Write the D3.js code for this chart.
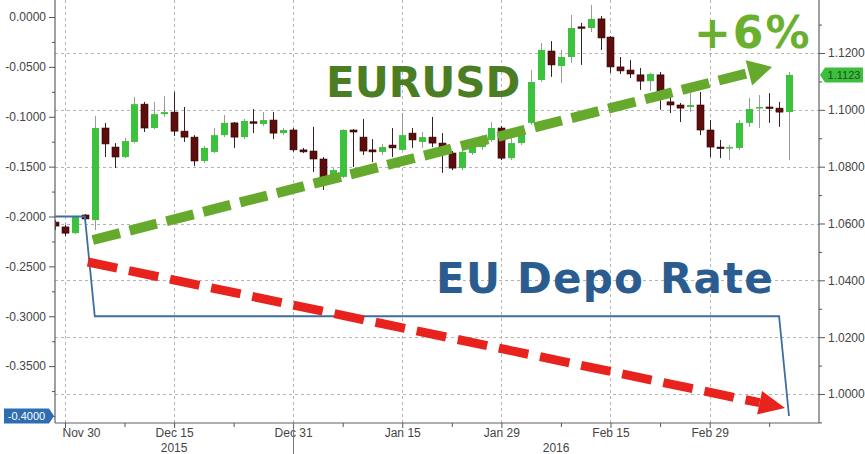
<!DOCTYPE html>
<html>
<head>
<meta charset="utf-8"/>
<title>EURUSD vs EU Depo Rate</title>
<script src="https://d3js.org/d3.v7.min.js"></script>
<style>
    body { margin: 0; background: #ffffff; }
    svg { display: block; }
    .axis text { font-family: "Liberation Sans", Arial, sans-serif; font-size: 12px; fill: #444; }
    .axis line { stroke: #555; }
    .big { font-family: "DejaVu Sans", Verdana, sans-serif; font-weight: bold; }
</style>
</head>
<body>
<svg id="chart" width="865" height="454"></svg>
<script>
// EURUSD daily candles, one per weekday from Nov 27 2015 to Mar 10 2016
var opens  = [1.0605,1.0588,1.0566,1.0630,1.0612,1.0936,1.0869,1.0834,1.0887,1.1020,
              1.0936,1.0985,1.0992,1.0925,1.0904,1.0820,1.0852,1.0911,1.0954,1.0904,
              1.0958,1.0950,1.0964,1.0918,1.0929,1.0859,1.0855,1.0827,1.0753,1.0764,
              1.0929,1.0904,1.0859,1.0852,1.0876,1.0859,1.0918,1.0887,1.0904,1.0883,
              1.0848,1.0795,1.0848,1.0869,1.0894,1.0936,1.0830,1.0883,1.0954,1.1105,
              1.1207,1.1154,1.1186,1.1292,1.1288,1.1320,1.1256,1.1151,1.1140,1.1123,
              1.1101,1.1123,1.1028,1.1017,1.1010,1.1017,1.0929,1.0869,1.0866,1.0866,
              1.0954,1.1006,1.1010,1.1006,1.0992];
var highs  = [1.0612,1.0595,1.0626,1.0633,1.0978,1.0954,1.0883,1.0901,1.1045,1.1028,
              1.1028,1.1049,1.1063,1.1010,1.0911,1.0873,1.0936,1.0982,1.0957,1.0968,
              1.1003,1.0992,1.0992,1.0936,1.0936,1.0866,1.0940,1.0834,1.0795,1.0932,
              1.0932,1.0968,1.0897,1.0880,1.0936,1.0989,1.0936,1.0922,1.0975,1.0918,
              1.0855,1.0869,1.0887,1.0911,1.0957,1.0943,1.0901,1.0936,1.1140,1.1235,
              1.1242,1.1211,1.1334,1.1306,1.1369,1.1330,1.1260,1.1186,1.1175,1.1147,
              1.1130,1.1133,1.1042,1.1024,1.1059,1.1063,1.0964,1.0894,1.0876,1.0964,
              1.1042,1.1052,1.1059,1.1028,1.1133];
var lows   = [1.0577,1.0556,1.0563,1.0609,1.0577,1.0834,1.0795,1.0830,1.0883,1.0922,
              1.0932,1.0975,1.0908,1.0887,1.0802,1.0813,1.0848,1.0904,1.0866,1.0897,
              1.0918,1.0943,1.0897,1.0911,1.0852,1.0848,1.0781,1.0718,1.0745,1.0760,
              1.0799,1.0841,1.0816,1.0841,1.0834,1.0855,1.0866,1.0866,1.0869,1.0778,
              1.0788,1.0788,1.0841,1.0859,1.0887,1.0823,1.0823,1.0876,1.0947,1.1098,
              1.1116,1.1094,1.1165,1.1158,1.1274,1.1211,1.1130,1.1126,1.1112,1.1070,
              1.1066,1.1000,1.0989,1.0957,1.0992,1.0911,1.0834,1.0830,1.0823,1.0859,
              1.0940,1.0936,1.0954,1.0940,1.0823];
var closes = [1.0591,1.0566,1.0623,1.0616,1.0936,1.0880,1.0834,1.0890,1.1020,1.0936,
              1.0985,1.0992,1.0925,1.0904,1.0820,1.0866,1.0911,1.0954,1.0904,1.0961,
              1.0957,1.0964,1.0918,1.0929,1.0859,1.0852,1.0827,1.0764,1.0788,1.0929,
              1.0922,1.0855,1.0852,1.0869,1.0866,1.0911,1.0894,1.0904,1.0883,1.0869,
              1.0795,1.0852,1.0869,1.0901,1.0936,1.0830,1.0883,1.0929,1.1098,1.1211,
              1.1158,1.1186,1.1288,1.1290,1.1320,1.1253,1.1151,1.1137,1.1126,1.1101,
              1.1126,1.1059,1.1017,1.1006,1.1017,1.0929,1.0869,1.0866,1.0869,1.0954,
              1.1003,1.1010,1.1006,1.0992,1.1123];

// ECB deposit rate (left axis), at the day index where it changes
var depoDays  = [0, 3, 4, 73, 74];
var depoRates = [-0.2, -0.2, -0.3, -0.3, -0.4];

// date axis (day index of each label)
var tickIdx    = [1, 12, 24, 35, 45, 56, 66];
var tickLabels = ["Nov 30", "Dec 15", "Dec 31", "Jan 15", "Jan 29", "Feb 15", "Feb 29"];
var minorIdx   = [7, 18, 29, 40, 51, 61, 72];
var yearLabels = ["2015", "2016"];
var yearBreak  = 24;

var leftTicks  = [0, -0.05, -0.1, -0.15, -0.2, -0.25, -0.3, -0.35, -0.4];
var leftMinor  = [-0.025, -0.075, -0.125, -0.175, -0.225, -0.275, -0.325, -0.375];
var rightTicks = [1.00, 1.02, 1.04, 1.06, 1.08, 1.10, 1.12];
var rightMinor = [0.99, 1.01, 1.03, 1.05, 1.07, 1.09, 1.11, 1.13];

var svg = d3.select("#chart");
var left = 55, right = 819, bottom = 423;

var x  = d3.scaleLinear().domain([0, 74]).range([55.1, 789]);
var yL = d3.scaleLinear().domain([0, -0.4]).range([17, 416]);
var yR = d3.scaleLinear().domain([1.12, 1.00]).range([53, 394]);

var fmt = d3.formatLocale({decimal: ".", thousands: ",", grouping: [3], currency: ["", ""], minus: "-"}).format(".4f");
var lastDepo = depoRates[depoRates.length - 1];
var lastClose = closes[closes.length - 1];

svg.append("clipPath").attr("id", "plot")
    .append("rect").attr("x", left).attr("y", 0).attr("width", right - left).attr("height", bottom);

// grid
var grid = svg.append("g").attr("stroke", "#b4b4b4").attr("stroke-dasharray", "3,3").attr("stroke-width", 1);
grid.selectAll("line.h").data(rightTicks).enter().append("line")
    .attr("x1", left).attr("x2", right)
    .attr("y1", function (d) { return Math.round(yR(d)) + 0.5; })
    .attr("y2", function (d) { return Math.round(yR(d)) + 0.5; });
grid.selectAll("line.v").data(tickIdx).enter().append("line")
    .attr("y1", 0).attr("y2", bottom)
    .attr("x1", function (d) { return Math.round(x(d)) + 0.5; })
    .attr("x2", function (d) { return Math.round(x(d)) + 0.5; });

// candles
var idx = d3.range(opens.length);
var candles = svg.append("g").attr("clip-path", "url(#plot)");
candles.selectAll("line.wick").data(idx).enter().append("line")
    .attr("x1", function (i) { return Math.round(x(i)) + 0.5; })
    .attr("x2", function (i) { return Math.round(x(i)) + 0.5; })
    .attr("y1", function (i) { return yR(highs[i]); })
    .attr("y2", function (i) { return yR(lows[i]); })
    .attr("stroke", function (i) { return closes[i] >= opens[i] ? "#9a9a9a" : "#3a2020"; })
    .attr("stroke-width", 1);
candles.selectAll("rect.body").data(idx).enter().append("rect")
    .attr("x", function (i) { return Math.round(x(i)) - 3; })
    .attr("width", 7)
    .attr("y", function (i) { return yR(Math.max(opens[i], closes[i])); })
    .attr("height", function (i) { return Math.max(1.5, Math.abs(yR(opens[i]) - yR(closes[i]))); })
    .attr("fill", function (i) { return closes[i] >= opens[i] ? "#3cc23c" : "#5e0c0c"; })
    .attr("stroke", function (i) { return closes[i] >= opens[i] ? "none" : "#2a0505"; })
    .attr("stroke-width", 0.6);

// deposit rate step line
var depoLine = d3.line()
    .x(function (d, i) { return x(depoDays[i]); })
    .y(function (d) { return yL(d); });
svg.append("path").datum(depoRates)
    .attr("d", depoLine)
    .attr("fill", "none").attr("stroke", "#3e6e9e").attr("stroke-width", 1.8);
svg.append("line")
    .attr("x1", left).attr("x2", x(depoDays[0]))
    .attr("y1", yL(depoRates[0])).attr("y2", yL(depoRates[0]))
    .attr("stroke", "#3e6e9e").attr("stroke-width", 1.8);

// frame and axes
var frame = svg.append("g").attr("stroke", "#606060").attr("stroke-width", 1.2);
frame.append("line").attr("x1", left).attr("x2", left).attr("y1", 0).attr("y2", bottom);
frame.append("line").attr("x1", right).attr("x2", right).attr("y1", 0).attr("y2", bottom);
frame.append("line").attr("x1", left).attr("x2", right).attr("y1", bottom).attr("y2", bottom);

function noDomain(g) { g.select(".domain").remove(); }

// the last depo value is shown in its tag instead of as a plain tick label
svg.append("g").attr("class", "axis").attr("transform", "translate(" + left + ",0)")
    .call(d3.axisLeft(yL).tickValues(leftTicks)
        .tickFormat(function (d) { return d === lastDepo ? "" : fmt(d); })
        .tickSize(6).tickPadding(3)).call(noDomain);
svg.append("g").attr("class", "axis").attr("transform", "translate(" + left + ",0)")
    .call(d3.axisLeft(yL).tickValues(leftMinor).tickFormat("").tickSize(3)).call(noDomain);
svg.append("g").attr("class", "axis").attr("transform", "translate(" + right + ",0)")
    .call(d3.axisRight(yR).tickValues(rightTicks).tickFormat(fmt).tickSize(6).tickPadding(3)).call(noDomain);
svg.append("g").attr("class", "axis").attr("transform", "translate(" + right + ",0)")
    .call(d3.axisRight(yR).tickValues(rightMinor.filter(function (d) { return yR(d) > 0 && yR(d) < bottom; }))
    .tickFormat("").tickSize(3)).call(noDomain);

var xAxis = svg.append("g").attr("class", "axis").attr("transform", "translate(0," + bottom + ")")
    .call(d3.axisBottom(x).tickValues(tickIdx).tickFormat(function (d, i) { return tickLabels[i]; })
    .tickSize(5).tickPadding(0)).call(noDomain);
xAxis.selectAll("text").filter(function (d, i) { return i == 0; })
    .attr("text-anchor", "start").attr("dx", "-3");
svg.append("g").attr("class", "axis").attr("transform", "translate(0," + bottom + ")")
    .call(d3.axisBottom(x).tickValues(minorIdx).tickFormat("").tickSize(4)).call(noDomain);

// year separator and year labels
svg.append("line")
    .attr("x1", Math.round(x(yearBreak)) + 0.5).attr("x2", Math.round(x(yearBreak)) + 0.5)
    .attr("y1", bottom).attr("y2", 454).attr("stroke", "#777");
var yearCentres = [(left + x(yearBreak)) / 2, (x(yearBreak) + right) / 2];
svg.append("g").attr("class", "axis").selectAll("text").data(yearLabels).enter().append("text")
    .attr("x", function (d, i) { return yearCentres[i]; })
    .attr("y", 452).attr("text-anchor", "middle").text(function (d) { return d; });

// last value tags
function tag(xEdge, yMid, w, dir, fill, txtColor, label) {
    var h = 15, tip = 5;
    var pts = dir > 0
        ? [[xEdge - w - tip, yMid - h / 2], [xEdge - tip, yMid - h / 2], [xEdge, yMid], [xEdge - tip, yMid + h / 2], [xEdge - w - tip, yMid + h / 2]]
        : [[xEdge + w + tip, yMid - h / 2], [xEdge + tip, yMid - h / 2], [xEdge, yMid], [xEdge + tip, yMid + h / 2], [xEdge + w + tip, yMid + h / 2]];
    svg.append("polygon").attr("points", pts.map(function (p) { return p.join(","); }).join(" "))
        .attr("fill", fill);
    svg.append("text")
        .attr("x", dir > 0 ? xEdge - tip - w / 2 : xEdge + tip + w / 2).attr("y", yMid + 4)
        .attr("text-anchor", "middle")
        .style("font-family", "'Liberation Sans', Arial, sans-serif")
        .style("font-size", "11px").attr("fill", txtColor).text(label);
}
tag(left - 1, yL(lastDepo), 45, 1, "#2f6db3", "#ffffff", fmt(lastDepo));
tag(right + 1, yR(lastClose), 38, -1, "#3cbf3c", "#1c4f1c", fmt(lastClose));

// dashed arrows
function arrow(x1, y1, x2, y2, color, width, dash, headLen, headW) {
    var dx = x2 - x1, dy = y2 - y1, len = Math.sqrt(dx * dx + dy * dy);
    var ux = dx / len, uy = dy / len;
    var bx = x2 - ux * headLen, by = y2 - uy * headLen;
    svg.append("line").attr("x1", x1).attr("y1", y1).attr("x2", bx).attr("y2", by)
        .attr("stroke", color).attr("stroke-width", width).attr("stroke-dasharray", dash);
    svg.append("polygon")
        .attr("points", [[x2, y2], [bx - uy * headW / 2, by + ux * headW / 2], [bx + uy * headW / 2, by - ux * headW / 2]]
            .map(function (p) { return p.join(","); }).join(" "))
        .attr("fill", color);
}
arrow(x(3.8), yR(1.0542), x(72.3), yR(1.1151), "#65a92d", 10, "28,10", 24, 26);
arrow(x(3.3), yL(-0.2456), x(73.6), yL(-0.392), "#e8221c", 9, "30,12", 26, 24);

// annotations
svg.append("text").attr("class", "big").attr("x", 326).attr("y", 97)
    .attr("font-size", 42).attr("fill", "#4b7d23").text("EURUSD");
svg.append("text").attr("class", "big").attr("x", 694).attr("y", 48)
    .attr("font-size", 44).attr("letter-spacing", 2).attr("fill", "#6ab02e").text("+6%");
svg.append("text").attr("class", "big").attr("x", 436).attr("y", 293)
    .attr("font-size", 42).attr("letter-spacing", 1.2).attr("fill", "#2b5c8f").text("EU Depo Rate");
</script>
</body>
</html>
